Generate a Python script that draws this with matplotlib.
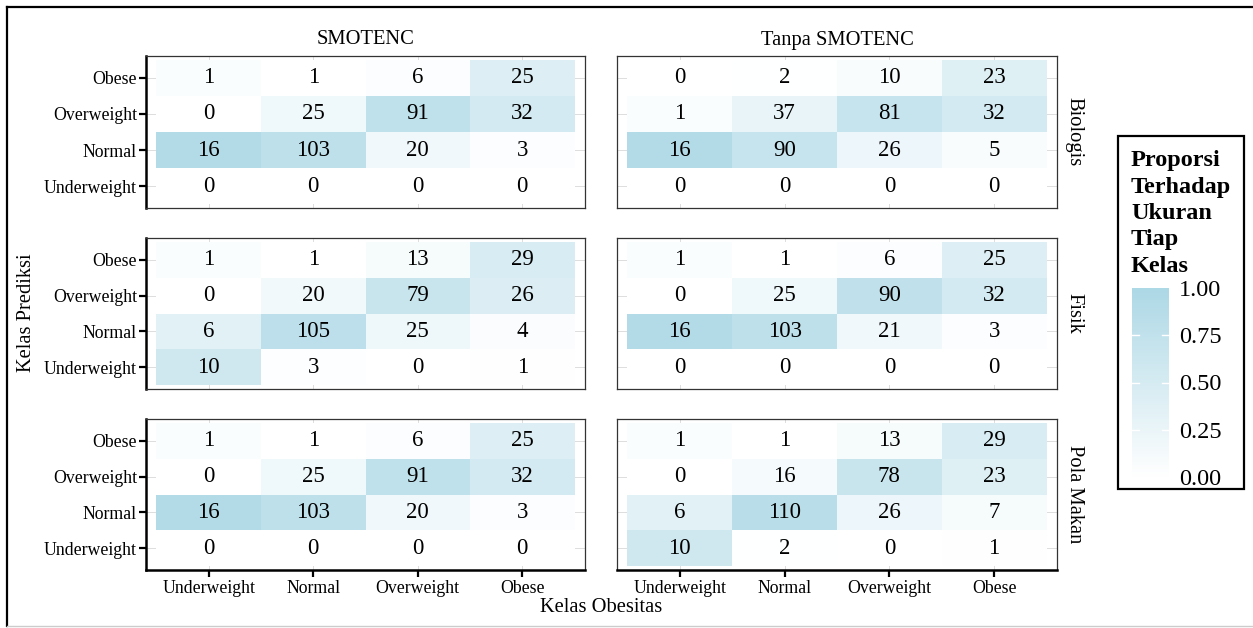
import numpy as np
import matplotlib
matplotlib.use("Agg")
import matplotlib.pyplot as plt
from matplotlib.colors import LinearSegmentedColormap
from matplotlib.patches import Rectangle
from matplotlib.lines import Line2D

plt.rcParams['font.family'] = ['Liberation Serif', 'DejaVu Serif']

# Class order (index 0 = Underweight ... 3 = Obese)
classes = ["Underweight", "Normal", "Overweight", "Obese"]
methods = ["SMOTENC", "Tanpa SMOTENC"]
feature_sets = ["Biologis", "Fisik", "Pola Makan"]

# Confusion matrices: rows = predicted class (Underweight..Obese),
# columns = actual class (Underweight..Obese)
biologis_smotenc = [[0, 0, 0, 0],
                    [16, 103, 20, 3],
                    [0, 25, 91, 32],
                    [1, 1, 6, 25]]
biologis_tanpa = [[0, 0, 0, 0],
                  [16, 90, 26, 5],
                  [1, 37, 81, 32],
                  [0, 2, 10, 23]]
fisik_smotenc = [[10, 3, 0, 1],
                 [6, 105, 25, 4],
                 [0, 20, 79, 26],
                 [1, 1, 13, 29]]
fisik_tanpa = [[0, 0, 0, 0],
               [16, 103, 21, 3],
               [0, 25, 90, 32],
               [1, 1, 6, 25]]
polamakan_smotenc = [[0, 0, 0, 0],
                     [16, 103, 20, 3],
                     [0, 25, 91, 32],
                     [1, 1, 6, 25]]
polamakan_tanpa = [[10, 2, 0, 1],
                   [6, 110, 26, 7],
                   [0, 16, 78, 23],
                   [1, 1, 13, 29]]

matrices = [[biologis_smotenc, biologis_tanpa],
            [fisik_smotenc, fisik_tanpa],
            [polamakan_smotenc, polamakan_tanpa]]

legend_breaks = [0.0, 0.25, 0.50, 0.75, 1.00]

W, H = 1253, 628
fig = plt.figure(figsize=(W / 100, H / 100), dpi=100)


def fx(x):
    return x / W


def fy(y):
    return 1 - y / H


cmap = LinearSegmentedColormap.from_list("blues", ["#FFFFFF", "#ADD8E6"])

col_left = [146, 617]
col_right = [585, 1057]
row_top = [56, 238, 419]
row_bottom = [208, 389, 570]

pos = np.arange(1, 5)
edges = np.arange(0.5, 5.0, 1.0)

for r in range(3):
    for c in range(2):
        ax = fig.add_axes([fx(col_left[c]), fy(row_bottom[r]),
                           (col_right[c] - col_left[c]) / W,
                           (row_bottom[r] - row_top[r]) / H])
        counts = np.array(matrices[r][c], dtype=float)
        prop = counts / counts.sum(axis=0, keepdims=True)
        ax.set_axisbelow(True)
        ax.grid(True, color="#D8D8D8", lw=0.6)
        ax.pcolormesh(edges, edges, prop, cmap=cmap, vmin=0, vmax=1,
                      shading="flat", zorder=1)
        for i in range(4):
            for j in range(4):
                ax.text(pos[j], pos[i], str(int(counts[i, j])),
                        ha="center", va="center", fontsize=16.5,
                        color="black", zorder=3)
        ax.set_xlim(0.4, 4.6)
        ax.set_ylim(0.4, 4.6)
        ax.set_xticks(pos)
        ax.set_yticks(pos)
        ax.set_xticklabels(classes)
        ax.set_yticklabels(classes)
        for s in ["top", "right", "left", "bottom"]:
            ax.spines[s].set_color("#333333")
            ax.spines[s].set_linewidth(0.9)
        show_y = c == 0
        show_x = r == 2
        ax.tick_params(axis="y", left=show_y, labelleft=show_y,
                       length=5, width=1.6, color="black", pad=1.5,
                       labelsize=12.8, labelcolor="black")
        ax.tick_params(axis="x", bottom=show_x, labelbottom=show_x,
                       length=5, width=1.6, color="black", pad=2,
                       labelsize=12.8, labelcolor="black")
        if show_y:
            ax.spines["left"].set_color("black")
            ax.spines["left"].set_linewidth(1.8)
        if show_x:
            ax.spines["bottom"].set_color("black")
            ax.spines["bottom"].set_linewidth(1.8)
        if r == 0:
            ax.text(0.5, 1.0 + 16 / (row_bottom[r] - row_top[r]), methods[c],
                    transform=ax.transAxes, ha="center", va="center",
                    fontsize=14.8)
        if c == 1:
            ax.text(1.0 + 17 / (col_right[c] - col_left[c]), 0.5,
                    feature_sets[r], transform=ax.transAxes, rotation=270,
                    ha="center", va="center", fontsize=14.8)

# Axis titles
fig.text(fx(601), fy(607), "Kelas Obesitas", ha="center", va="center",
         fontsize=14.8)
fig.text(fx(27), fy(313), "Kelas Prediksi", ha="center", va="center",
         rotation=90, fontsize=14.8)

# Legend box
fig.add_artist(Rectangle((fx(1118), fy(489)), (1244 - 1118) / W,
                         (489 - 136) / H, transform=fig.transFigure,
                         fill=False, edgecolor="black", lw=1.6))
title_lines = ["Proporsi", "Terhadap", "Ukuran", "Tiap", "Kelas"]
for k, line in enumerate(title_lines):
    fig.text(fx(1131), fy(166 + 26.5 * k), line, ha="left", va="baseline",
             fontsize=17.5, fontweight="bold")

cax = fig.add_axes([fx(1132), fy(477), (1169 - 1132) / W, (477 - 288) / H])
grad = np.linspace(0, 1, 256).reshape(-1, 1)
cax.imshow(grad, cmap=cmap, vmin=0, vmax=1, aspect="auto",
           extent=[0, 1, 0, 1], origin="lower")
cax.set_xlim(0, 1)
cax.set_ylim(0, 1)
for b in legend_breaks[1:-1]:
    cax.plot([0, 0.2], [b, b], color="white", lw=1)
    cax.plot([0.8, 1], [b, b], color="white", lw=1)
cax.set_xticks([])
cax.yaxis.tick_right()
cax.set_yticks(legend_breaks)
cax.set_yticklabels([f"{b:.2f}" for b in legend_breaks])
cax.tick_params(axis="y", length=0, pad=7, labelsize=17.5)
for s in cax.spines.values():
    s.set_visible(False)

# Outer frame
fig.add_artist(Line2D([fx(7), fx(W)], [fy(7), fy(7)],
                      transform=fig.transFigure, color="black", lw=1.6))
fig.add_artist(Line2D([fx(7), fx(7)], [fy(7), fy(626)],
                      transform=fig.transFigure, color="black", lw=1.6))
fig.add_artist(Line2D([fx(7), fx(W)], [fy(626), fy(626)],
                      transform=fig.transFigure, color="#CCCCCC", lw=1.0))

fig.savefig("out.png", dpi=100)
